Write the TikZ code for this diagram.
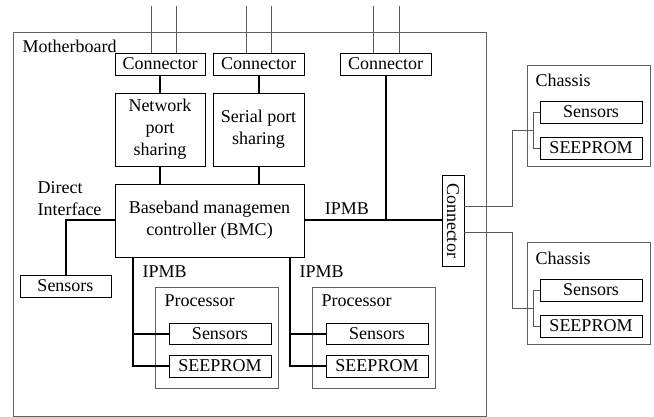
\documentclass[tikz,border=0pt]{standalone}
\usepackage{fontspec}
\setmainfont{Liberation Serif}
\usetikzlibrary{positioning,calc}
\tikzset{
        box/.style={draw, line width=0.9pt, inner sep=0pt, minimum height=22pt, align=center}, % plain black block
        board/.style={draw=gray!75!black, line width=0.9pt, inner sep=0pt}, % grey outline of a board
        bus/.style={line width=2pt}, % thick connection on the motherboard
        link/.style={draw=gray!70!black, line width=0.9pt}, % thin outside cable
    }

\begin{document}
\begin{tikzpicture}[x=1pt, y=-1pt, font=\fontsize{18}{22}\selectfont]
    \useasboundingbox (0,0) rectangle (654,417);
    % boards
    \node[board, minimum width=473pt, minimum height=384pt] (mb) at (249.5,224) {};
    \node[board, minimum width=123pt, minimum height=101pt] (proc1) at (216.5,337.5) {};
    \node[board, minimum width=123pt, minimum height=101pt] (proc2) at (373.5,337.5) {};
    \node[board, minimum width=123pt, minimum height=101pt] (ch1) at (588.5,115.5) {};
    \node[board, minimum width=123pt, minimum height=102pt] (ch2) at (588.5,293) {};
    \node[anchor=west] (mbl) at (19,46) {Motherboard};
    \node[anchor=west] (p1l) at (161,301) {Processor};
    \node[anchor=west] (p2l) at (318,301) {Processor};
    \node[anchor=west] (c1l) at (532,80) {Chassis};
    \node[anchor=west] (c2l) at (532,258) {Chassis};
    % blocks
    \node[box, minimum width=90pt] (conA) at (160,64) {Connector};
    \node[box, minimum width=91pt] (conB) at (258.5,64) {Connector};
    \node[box, minimum width=91pt] (conC) at (385.5,64) {Connector};
    \node[box, minimum width=90pt, minimum height=73pt] (net) at (160,129.5) {Network\\port\\sharing};
    \node[box, minimum width=91pt, minimum height=73pt] (ser) at (258.5,129.5) {Serial port\\sharing};
    \node[box, minimum width=189pt, minimum height=73pt] (bmc) at (209.5,220.5) {Baseband managemen\\controller (BMC)};
    \node[box, minimum width=91pt] (sensL) at (65.5,286) {Sensors};
    \node[box, rotate=-90, minimum width=91pt] (conV) at (453,220.5) {Connector};
    \node[box, minimum width=102pt, minimum height=21pt] (s1) at (220,333.5) {Sensors};
    \node[box, minimum width=102pt] (e1) at (220,366) {SEEPROM};
    \node[box, minimum width=102pt, minimum height=21pt] (s2) at (377,333.5) {Sensors};
    \node[box, minimum width=102pt] (e2) at (377,366) {SEEPROM};
    \node[box, minimum width=102pt] (cs1) at (591,112) {Sensors};
    \node[box, minimum width=102pt] (ce1) at (591,148) {SEEPROM};
    \node[box, minimum width=102pt] (cs2) at (591,290) {Sensors};
    \node[box, minimum width=102pt] (ce2) at (591,326) {SEEPROM};
    % labels
    \node[anchor=west, align=left] (dil) at (34,199) {Direct\\Interface};
    \node (ipl) at (347,209) {IPMB};
    \node[anchor=west] (ipl1) at (139,272) {IPMB};
    \node[anchor=west] (ipl2) at (296,272) {IPMB};
    % outside wires
    \draw[link] ([xshift=-9pt]conA.north) -- ++(0,-47) ([xshift=16pt]conA.north) -- ++(0,-47);
    \draw[link] ([xshift=-12.5pt]conB.north) -- ++(0,-47) ([xshift=12.5pt]conB.north) -- ++(0,-47);
    \draw[link] ([xshift=-12.5pt]conC.north) -- ++(0,-47) ([xshift=13.5pt]conC.north) -- ++(0,-47);
    % motherboard buses
    \coordinate (ipL) at ([xshift=18pt]bmc.south west);
    \coordinate (ipR) at ([xshift=-14pt]bmc.south east);
    \draw[bus] (conA) -- (net) (net) -- (net |- bmc.north);
    \draw[bus] (conB) -- (ser) (ser) -- (ser |- bmc.north);
    \draw[bus] (conC) -- (conC |- bmc.east);
    \draw[bus] (bmc) -- (conV);
    \draw[bus] (bmc.west) -| (sensL);
    \draw[bus] (ipL) |- (e1) (ipL |- s1) -- (s1);
    \draw[bus] (ipR) |- (e2) (ipR |- s2) -- (s2);
    % chassis cables
    \coordinate (j1) at ([xshift=-6pt]$(cs1.west)!.5!(ce1.west)$);
    \coordinate (j2) at ([xshift=-6pt]$(cs2.west)!.5!(ce2.west)$);
    \draw[link] (cs1.west) -- ++(-6,0) |- (ce1.west);
    \draw[link] (cs2.west) -- ++(-6,0) |- (ce2.west);
    \draw[link] ([yshift=14.5pt]conV.north) -- ++(48,0) |- (j1);
    \draw[link] ([yshift=-11.5pt]conV.north) -- ++(48,0) |- (j2);
\end{tikzpicture}
\end{document}
